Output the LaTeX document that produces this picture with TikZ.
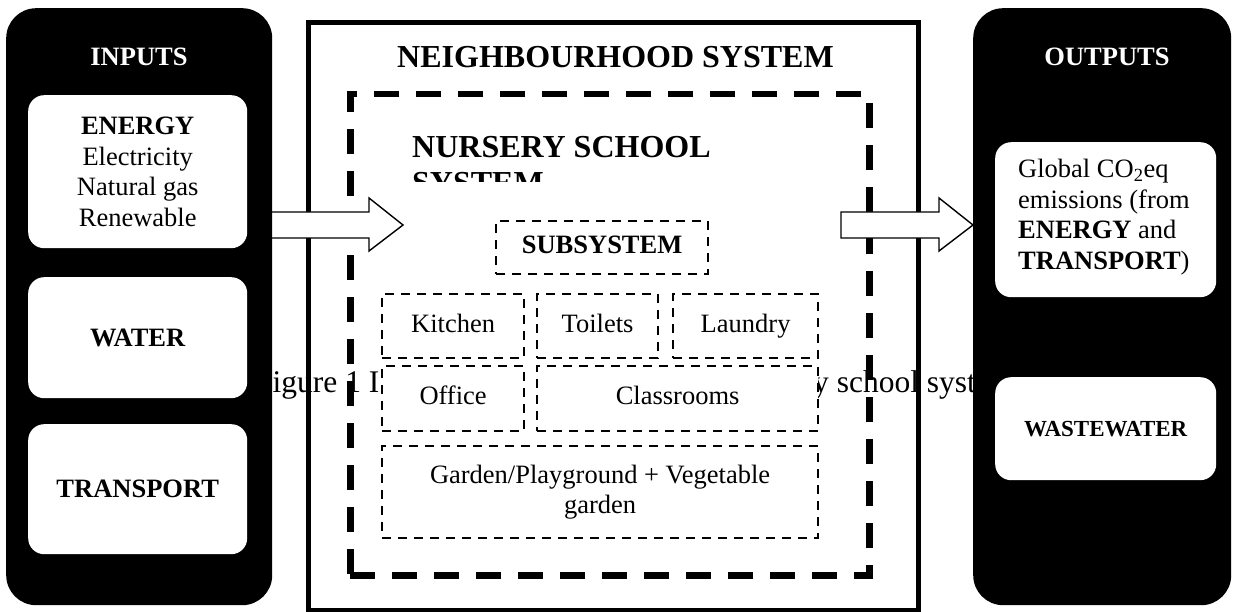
\documentclass[tikz,border=0pt]{standalone}
\usepackage{fontspec}
\setmainfont{Liberation Serif}
\begin{document}
\begin{tikzpicture}[x=1pt,y=-1pt,
  panel/.style={draw=none,fill=black,rounded corners=30pt,inner sep=0pt,anchor=north west},
  card/.style={draw=none,fill=white,rounded corners=16pt,inner sep=0pt,anchor=north west,align=center,font=\bodyfont},
  subbox/.style={draw,fill=white,line width=2.2pt,dash pattern=on 9pt off 7pt,inner sep=0pt,anchor=north west,align=center,font=\bodyfont},
  oneline/.style={text height=18pt,text depth=6pt},
  blockarrow/.style={draw,fill=white,line width=1.4pt,line join=miter},
  paneltitle/.style={text=white,font=\bodyfont\bfseries},
]
\newcommand{\bodyfont}{\fontsize{26.5}{30.5}\selectfont}
\newcommand{\titlefont}{\fontsize{32}{36}\selectfont\bfseries}
\useasboundingbox (0,0) rectangle (1236,612);

% caption text lying under the diagram
\node[anchor=base west,inner sep=0pt,font=\fontsize{31.5}{36}\selectfont] (capl) at (255,392) {Figure 1 I};
\node[anchor=base west,inner sep=0pt,font=\fontsize{31.5}{36}\selectfont] (capr) at (813,392) {y school system};

% neighbourhood system
\node[draw,line width=5pt,inner sep=0pt,anchor=north west,minimum width=609.5pt,minimum height=588pt] (nbh) at (306,20) {};
\node[anchor=base,inner sep=0pt,font=\titlefont] (nbhtitle) at (615.5,68) {NEIGHBOURHOOD SYSTEM};

% nursery school system
\node[draw,line width=6.5pt,dash pattern=on 25pt off 17pt,inner sep=0pt,anchor=north west,minimum width=519pt,minimum height=481pt] (nursery) at (347,91) {};
\node[anchor=base west,inner sep=0pt,font=\titlefont] (nurserytitle) at (412,158) {NURSERY SCHOOL};
\begin{scope}
  \clip (400,160) rectangle (760,182);
  \node[anchor=base west,inner sep=0pt,font=\titlefont] (nurserytitleb) at (412,194) {SYSTEM};
\end{scope}

% subsystems
\node[subbox,oneline,minimum width=212pt,minimum height=53pt,font=\bodyfont\bfseries] (sub) at (495,220) {SUBSYSTEM};
\node[subbox,oneline,minimum width=142pt,minimum height=64pt] (kitchen) at (381,293) {Kitchen};
\node[subbox,oneline,minimum width=121pt,minimum height=64pt] (toilets) at (536,293) {Toilets};
\node[subbox,oneline,minimum width=145pt,minimum height=64pt] (laundry) at (672,293) {Laundry};
\node[subbox,oneline,minimum width=142pt,minimum height=65pt] (office) at (381,365) {Office};
\node[subbox,oneline,minimum width=281pt,minimum height=65pt] (classrooms) at (536,365) {Classrooms};
\node[subbox,minimum width=436pt,minimum height=92pt] (garden) at (381,445) {Garden/Playground + Vegetable\\garden};

% flow arrows
\draw[blockarrow] (272,212) -- (369,212) -- (369,198) -- (403,225) -- (369,251) -- (369,238) -- (272,238);
\draw[blockarrow] (841,212) -- (939,212) -- (939,198) -- (973,225) -- (939,251) -- (939,238) -- (841,238) -- cycle;

% inputs
\node[panel,minimum width=266pt,minimum height=597pt] (inputs) at (6,8) {};
\node[paneltitle] (inputstitle) at (139,57) {INPUTS};
\node[card,minimum width=219pt,minimum height=153pt] (energy) at (28,95) {\textbf{ENERGY}\\Electricity\\Natural gas\\Renewable};
\node[card,minimum width=219pt,minimum height=121pt,font=\bodyfont\bfseries] (water) at (28,277) {WATER};
\node[card,minimum width=219pt,minimum height=130pt,font=\bodyfont\bfseries] (transport) at (28,424) {TRANSPORT};

% outputs
\node[panel,minimum width=258pt,minimum height=597pt] (outputs) at (973,8) {};
\node[paneltitle] (outputstitle) at (1107,57) {OUTPUTS};
\node[card,minimum width=221pt,minimum height=155pt] (emissions) at (995,142) {};
\node[anchor=west,inner sep=0pt,align=left,font=\bodyfont] (emissionstext) at (1018,217) {Global CO\textsubscript{2}eq\\emissions (from\\\textbf{ENERGY} and\\\textbf{TRANSPORT})};
\node[card,minimum width=221pt,minimum height=103pt,font=\fontsize{23}{27}\selectfont\bfseries] (wastewater) at (995,377) {WASTEWATER};
\end{tikzpicture}
\end{document}
